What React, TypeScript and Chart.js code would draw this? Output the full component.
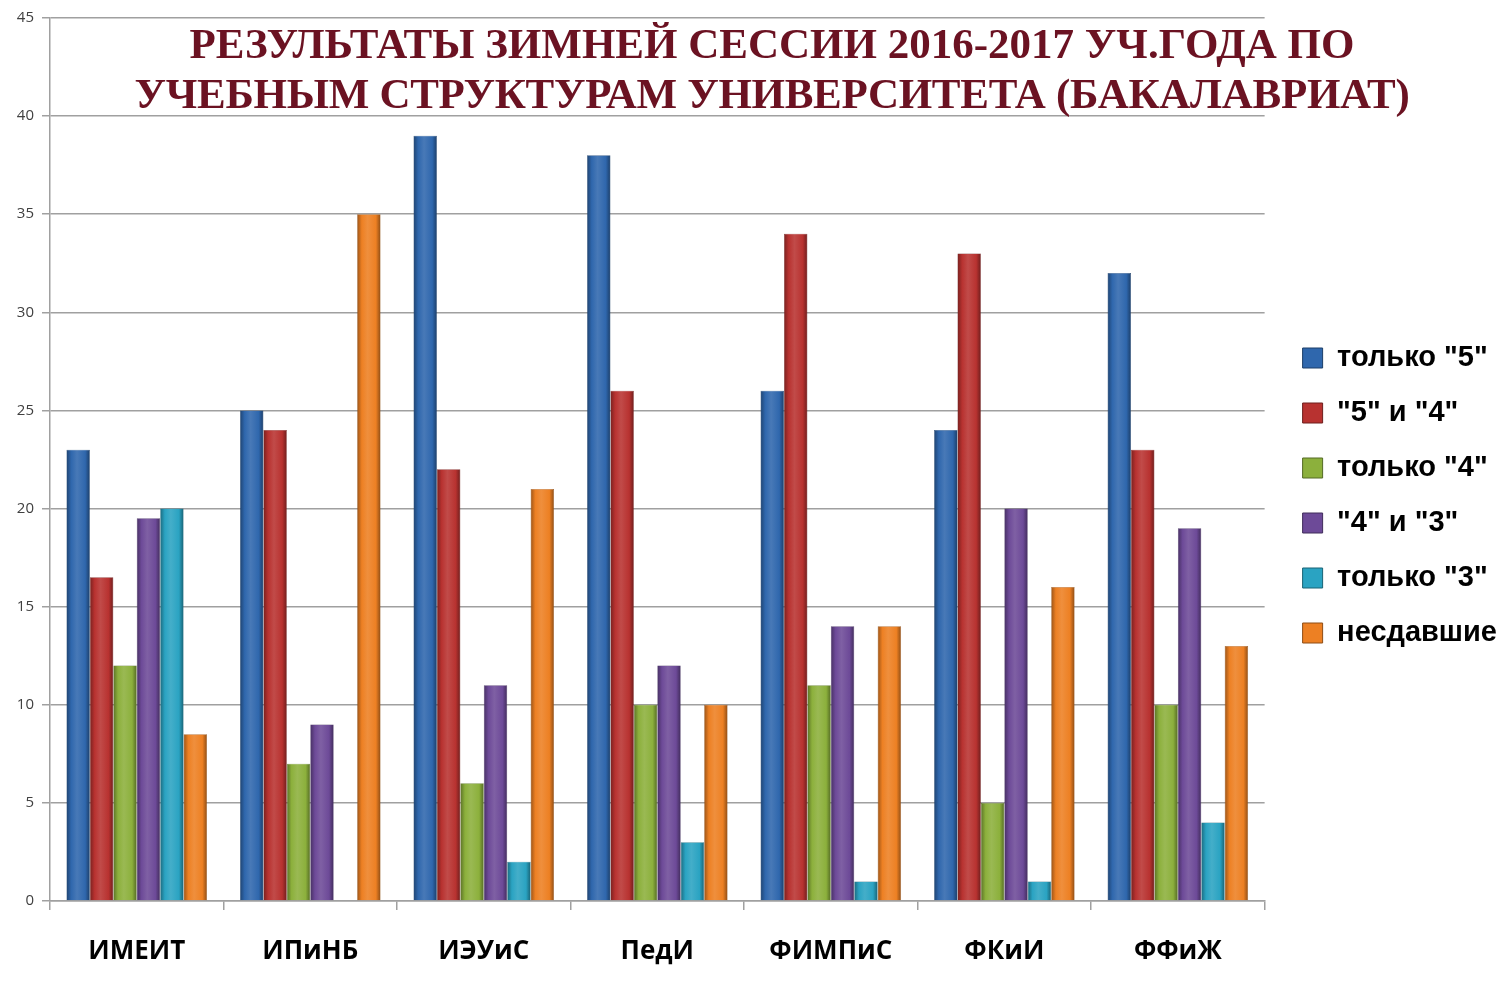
import React, { useEffect, useRef } from "react";
import { Chart, registerables } from "chart.js";

Chart.register(...registerables);

const categories = ["ИМЕИТ", "ИПиНБ", "ИЭУиС", "ПедИ", "ФИМПиС", "ФКиИ", "ФФиЖ"];
const seriesNames = ['только "5"', '"5" и "4"', 'только "4"', '"4" и "3"', 'только "3"', "несдавшие"];
const only5 = [23, 25, 39, 38, 26, 24, 32];
const five4 = [16.5, 24, 22, 26, 34, 33, 23];
const only4 = [12, 7, 6, 10, 11, 5, 10];
const four3 = [19.5, 9, 11, 12, 14, 20, 19];
const only3 = [20, 0, 2, 3, 1, 1, 4];
const failed = [8.5, 35, 21, 10, 14, 16, 13];
const seriesValues = [only5, five4, only4, four3, only3, failed];
const seriesColors = ["#2f67ad", "#b83230", "#8cb03c", "#6d4a98", "#2aa3c2", "#ed8023"];
const yTicksMax = 45;
const yTicksStep = 5;
const titleLines = ["РЕЗУЛЬТАТЫ ЗИМНЕЙ СЕССИИ 2016-2017 УЧ.ГОДА ПО", "УЧЕБНЫМ СТРУКТУРАМ УНИВЕРСИТЕТА (БАКАЛАВРИАТ)"];

function shade(hex: string, f: number) {
  const n = parseInt(hex.slice(1), 16);
  let r = (n >> 16) & 255, g = (n >> 8) & 255, b = n & 255;
  if (f < 0) { r = r * (1 + f); g = g * (1 + f); b = b * (1 + f); }
  else { r = r + (255 - r) * f; g = g + (255 - g) * f; b = b + (255 - b) * f; }
  return `rgb(${Math.round(r)},${Math.round(g)},${Math.round(b)})`;
}

const cylinderPlugin = {
  id: "cylinder",
  beforeDatasetDraw(chart: any, args: any) {
    const ctx = chart.ctx;
    const meta = args.meta;
    const base = seriesColors[args.index];
    meta.data.forEach((el: any) => {
      const w = el.width;
      const x0 = el.x - w / 2;
      const g = ctx.createLinearGradient(x0, 0, x0 + w, 0);
      g.addColorStop(0, shade(base, -0.35));
      g.addColorStop(0.2, base);
      g.addColorStop(0.45, shade(base, 0.12));
      g.addColorStop(0.8, base);
      g.addColorStop(1, shade(base, -0.4));
      el.options = Object.assign({}, el.options, { backgroundColor: g });
    });
  },
};

export default function App() {
  const ref = useRef<HTMLCanvasElement>(null);
  useEffect(() => {
    const chart = new Chart(ref.current!, {
      type: "bar",
      data: {
        labels: categories,
        datasets: seriesNames.map((name, i) => ({
          label: name,
          data: seriesValues[i],
          backgroundColor: seriesColors[i],
          borderColor: shade(seriesColors[i], -0.4),
          borderWidth: 0.5,
          categoryPercentage: 0.81,
          barPercentage: 1,
        })),
      },
      options: {
        animation: false,
        responsive: false,
        maintainAspectRatio: false,
        layout: { padding: { top: 18, left: 0, right: 0, bottom: 20 } },
        plugins: {
          legend: {
            position: "right",
            align: "center",
            labels: {
              boxWidth: 20,
              boxHeight: 20,
              padding: 26,
              color: "#000",
              font: { family: "'Liberation Sans', Arial, sans-serif", size: 29, weight: "bold" },
              generateLabels: () =>
                seriesNames.map((n, i) => ({
                  text: n,
                  fillStyle: seriesColors[i],
                  strokeStyle: shade(seriesColors[i], -0.4),
                  lineWidth: 1,
                  datasetIndex: i,
                  hidden: false,
                })),
            },
          },
          tooltip: { enabled: false },
        },
        scales: {
          x: {
            offset: true,
            grid: { display: true, drawOnChartArea: false, offset: true, tickLength: 9, color: "#a0a0a0", lineWidth: 1.5 },
            border: { display: true, color: "#a0a0a0", width: 1.5 },
            ticks: {
              color: "#000",
              padding: 26,
              font: { family: "'Open Sans', sans-serif", size: 26, weight: "bold" },
            },
            afterFit: (s: any) => { s.height = 72; },
          },
          y: {
            min: 0,
            max: yTicksMax,
            ticks: {
              stepSize: yTicksStep,
              color: "#404040",
              padding: 8,
              font: { family: "'Open Sans', sans-serif", size: 15 },
            },
            grid: { color: "#a0a0a0", lineWidth: 1.5, tickLength: 8 },
            border: { display: true, color: "#a0a0a0", width: 1.5 },
            afterFit: (s: any) => { s.width = 50; },
          },
          gap: {
            type: "linear",
            position: "right",
            display: true,
            grid: { display: false, drawTicks: false },
            border: { display: false },
            ticks: { display: false },
            afterFit: (s: any) => { s.width = 12; },
          },
        },
      },
      plugins: [cylinderPlugin],
    } as any);
    return () => chart.destroy();
  }, []);
  return (
    <div style={{ position: "fixed", left: 0, top: 0, width: 1507, height: 993, background: "#fff" }}>
      <canvas ref={ref} width={1507} height={993} style={{ width: 1507, height: 993, display: "block" }} />
      <div
        style={{
          position: "absolute",
          left: 772 - 700,
          width: 1400,
          top: 19,
          textAlign: "center",
          fontFamily: "'Liberation Serif', 'Times New Roman', serif",
          fontWeight: "bold",
          fontSize: 43,
          lineHeight: "50px",
          color: "#6b1222",
          pointerEvents: "none",
        }}
      >
        {titleLines.map((t, i) => (
          <div key={i} style={i === 1 ? { letterSpacing: "-0.3px" } : undefined}>{t}</div>
        ))}
      </div>
    </div>
  );
}
